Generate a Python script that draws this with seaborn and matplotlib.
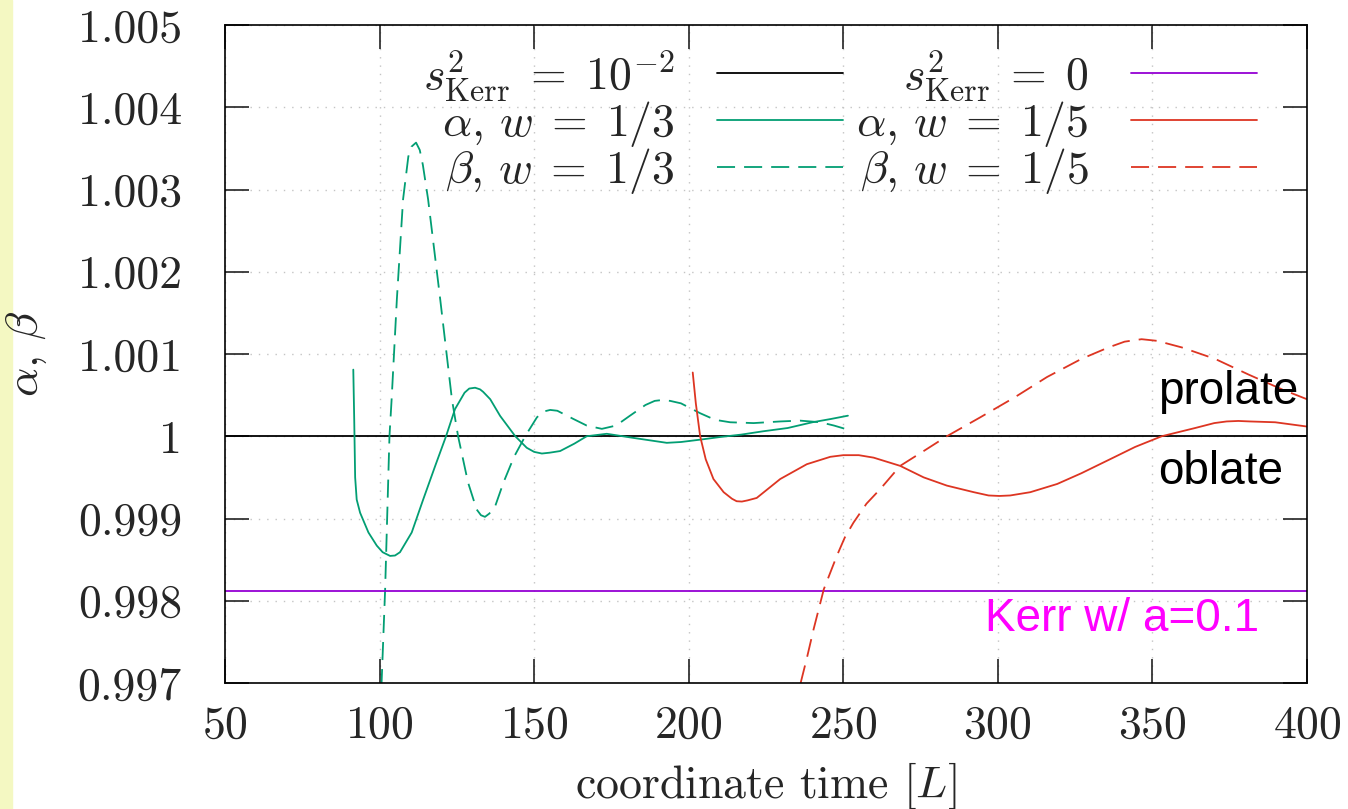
import numpy as np
import matplotlib
matplotlib.use('Agg')
import matplotlib.pyplot as plt
from matplotlib.patches import Rectangle
from matplotlib.ticker import MultipleLocator, FuncFormatter
import seaborn as sns

sns.set_theme(style='ticks')
plt.rcParams['font.family'] = 'cmr10'
plt.rcParams['mathtext.fontset'] = 'cm'
plt.rcParams['axes.formatter.use_mathtext'] = True

# -----------------------------------------------------------------------------
# data
# -----------------------------------------------------------------------------
x_full = [50, 400]
ref_s2 = [1.0, 1.0]            # s^2_Kerr = 1e-2
ref_kerr = [0.99812, 0.99812]  # s^2_Kerr = 0

t_a3 = [91.5, 91.8, 92.1, 92.6, 93.7, 96.4, 99.1, 101.0, 103.4, 105.0, 106.6, 110.4,
        114.1, 118.0, 121.5, 124.4, 127.5, 129.0, 130.9, 132.5, 133.5, 135.8, 139.0,
        143.9, 147.6, 150.0, 152.5, 155.0, 158.4, 163.0, 167.0, 173.5, 182.1, 192.9,
        197.5, 204.0, 210.0, 217.0, 224.0, 232.0, 240.0, 246.0, 251.5]
a3 = [1.00081, 1.0002, 0.9995, 0.99923, 0.99907, 0.99883, 0.99867, 0.99859, 0.998545,
      0.99855, 0.99859, 0.99883, 0.99923, 0.99964, 1.0, 1.00033, 1.00053, 1.00058,
      1.00059, 1.00057, 1.00054, 1.00045, 1.000247, 1.0, 0.99986, 0.99981, 0.99979,
      0.9998, 0.99982, 0.99991, 1.0, 1.00003, 0.99998, 0.99992, 0.99993, 0.99996,
      0.99999, 1.00002, 1.00006, 1.0001, 1.00017, 1.00021, 1.00025]

t_b3 = [100.6, 101.8, 103.2, 103.9, 105.6, 107.6, 109.3, 110.3, 111.8, 113.0, 114.0,
        115.7, 119.6, 123.4, 125.4, 128.6, 131.4, 132.8, 134.1, 135.5, 137.4, 140.1,
        143.5, 147.1, 150.9, 153.0, 155.2, 157.5, 162.7, 167.0, 171.9, 176.5, 181.0,
        186.0, 189.0, 191.3, 194.0, 197.5, 203.7, 208.5, 213.4, 221.0, 229.6, 236.0,
        242.6, 247.0, 251.5]
b3 = [0.99695, 0.99814, 1.0, 1.00045, 1.00167, 1.00288, 1.0034, 1.00352, 1.00357,
      1.00348, 1.0033, 1.00288, 1.00167, 1.00045, 1.0, 0.99944, 0.99911, 0.99904,
      0.99902, 0.99906, 0.99915, 0.99944, 0.99975, 1.0, 1.00023, 1.0003, 1.00032,
      1.00031, 1.00021, 1.00013, 1.00009, 1.00013, 1.00025, 1.00038, 1.00043, 1.00044,
      1.00043, 1.0004, 1.00028, 1.0002, 1.00017, 1.00016, 1.00018, 1.00019, 1.00017,
      1.00013, 1.00008]

t_a5 = [201.3, 202.3, 203.7, 205.5, 208.0, 211.3, 214.0, 215.5, 217.2, 219.0, 222.0,
        229.6, 238.2, 245.8, 250.0, 252.3, 255.0, 259.8, 268.4, 276.0, 283.5, 292.2,
        297.0, 300.5, 304.0, 310.5, 319.2, 327.0, 337.9, 344.4, 353.0, 363.8, 370.0,
        374.0, 377.8, 381.5, 389.7, 400.0]
a5 = [1.000775, 1.0004, 1.0, 0.99972, 0.99948, 0.99932, 0.99924, 0.99921, 0.999206,
      0.99922, 0.99925, 0.99948, 0.99966, 0.99975, 0.99977, 0.99977, 0.99977, 0.99974,
      0.99964, 0.9995, 0.9994, 0.99932, 0.99928, 0.999274, 0.99928, 0.99932, 0.99942,
      0.99955, 0.99975, 0.99987, 1.0, 1.0001, 1.00016, 1.00018, 1.000186, 1.00018,
      1.00017, 1.000118]

t_b5 = [236.2, 238.2, 240.4, 243.7, 247.9, 250.5, 253.3, 257.5, 262.0, 268.4, 276.0,
        283.5, 294.3, 305.3, 315.9, 327.0, 335.8, 341.0, 346.5, 351.5, 359.5, 370.3,
        381.1, 391.9, 400.0]
b5 = [0.997, 0.9973, 0.997654, 0.99814, 0.998545, 0.99877, 0.99895, 0.99918, 0.99936,
      0.99964, 0.99982, 1.0, 1.00023, 1.00047, 1.00072, 1.00094, 1.00108, 1.00115,
      1.00118, 1.00116, 1.00108, 1.00094, 1.00075, 1.00057, 1.00045]

labels = [r'$s^2_{\mathrm{Kerr}}\;=\;10^{-2}$', r'$\alpha$, $w\;=\;1/3$',
          r'$\beta$, $w\;=\;1/3$', r'$s^2_{\mathrm{Kerr}}\;=\;0$',
          r'$\alpha$, $w\;=\;1/5$', r'$\beta$, $w\;=\;1/5$']

green = '#029e73'
red = '#dd3522'
purple = '#9400d3'
dash = (0, (10, 5))

# -----------------------------------------------------------------------------
# figure
# -----------------------------------------------------------------------------
fig = plt.figure(figsize=(13.48, 8.09), dpi=100)
fig.patches.append(Rectangle((0, 0), 0.009, 1, transform=fig.transFigure,
                             color='#f4f8c2', zorder=-1))
ax = fig.add_axes([225/1348, 126/809, 1082/1348, 658/809])

lw = 1.3
sns.lineplot(x=x_full, y=ref_s2, ax=ax, color='black', lw=lw, label=labels[0])
sns.lineplot(x=t_a3, y=a3, ax=ax, color=green, lw=lw, label=labels[1])
sns.lineplot(x=t_b3, y=b3, ax=ax, color=green, lw=lw, linestyle=dash, label=labels[2])
sns.lineplot(x=x_full, y=ref_kerr, ax=ax, color=purple, lw=lw, label=labels[3])
sns.lineplot(x=t_a5, y=a5, ax=ax, color=red, lw=lw, label=labels[4])
sns.lineplot(x=t_b5, y=b5, ax=ax, color=red, lw=lw, linestyle=dash, label=labels[5])

ax.set_xlim(50, 400)
ax.set_ylim(0.997, 1.005)
ax.xaxis.set_major_locator(MultipleLocator(50))
ax.yaxis.set_major_locator(MultipleLocator(0.001))
ax.yaxis.set_major_formatter(FuncFormatter(lambda v, p: '%g' % round(v, 6)))

ax.grid(True, color='#c4c4c4', linestyle=(0, (1, 5)), linewidth=1.0)
for s in ax.spines.values():
    s.set_visible(True)
    s.set_color('black')
    s.set_linewidth(1.2)

ax.tick_params(axis='both', direction='in', length=17, width=1.2, color='#222222',
               top=True, right=True, labelsize=33)
ax.tick_params(axis='y', pad=31)
ax.tick_params(axis='x', pad=16)

ax.set_xlabel(r'coordinate time $[L]$', fontsize=33, labelpad=10)
ax.set_ylabel(r'$\alpha$, $\beta$', fontsize=33)
ax.yaxis.set_label_coords(-0.163, 0.5)

h, l = ax.get_legend_handles_labels()
ax.legend(h, l, ncol=2, markerfirst=False, frameon=False, fontsize=33,
          loc='upper right', bbox_to_anchor=(0.954, 0.965), borderaxespad=0,
          borderpad=0, labelspacing=-0.08, handlelength=2.75, handletextpad=0.92,
          columnspacing=0.3)

txt = dict(family='Liberation Sans', fontsize=33, ha='left', va='baseline')
ax.text(351.9, 1.00039, 'prolate', color='black', **txt)
ax.text(351.9, 0.99942, 'oblate', color='black', **txt)
ax.text(296.0, 0.99763, 'Kerr w/ a=0.1', color='#ff00ff', **txt)

fig.savefig('out.png', dpi=100)
